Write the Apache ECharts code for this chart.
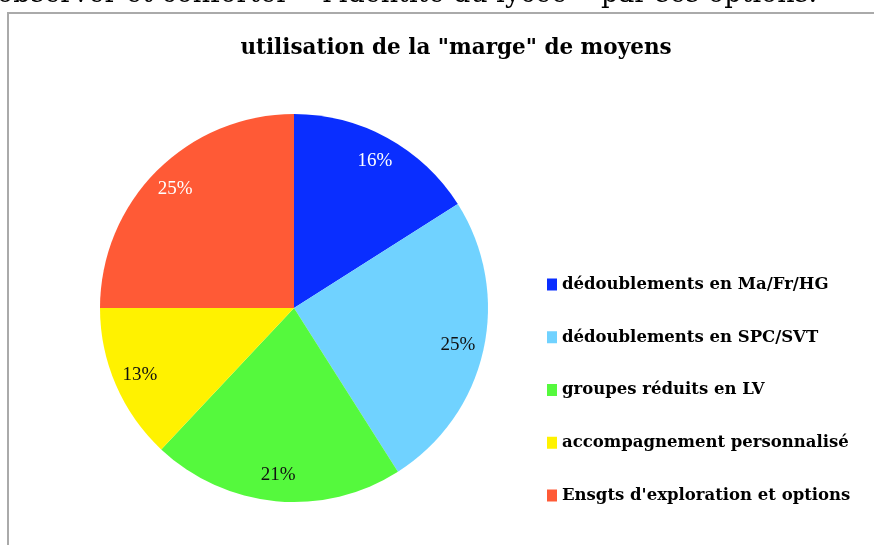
<!DOCTYPE html>
<html>
<head>
<meta charset="utf-8">
<script src="https://cdn.jsdelivr.net/npm/echarts@6/dist/echarts.min.js"></script>
<style>
  html, body { margin: 0; padding: 0; background: #fff; }
  #main { width: 874px; height: 545px; }
</style>
</head>
<body>
<div id="main"></div>
<script>
// donnees
let categories = [
    'dédoublements en Ma/Fr/HG',
    'dédoublements en SPC/SVT',
    'groupes réduits en LV',
    'accompagnement personnalisé',
    "Ensgts d'exploration et options"
];
let parts = [16, 25, 21, 13, 25];

let colors = ['#0A2EFF', '#70D2FF', '#55F93D', '#FFF200', '#FF5A36'];
let labelColors = ['#fff', '#111', '#111', '#111', '#fff'];

let dom = document.getElementById('main');
let myChart = echarts.init(dom);

let pieData = categories.map(function (c, i) {
    return { name: c, value: parts[i], itemStyle: { color: colors[i] } };
});
let labelData = categories.map(function (c, i) {
    return {
        name: c, value: parts[i],
        label: { color: labelColors[i] }
    };
});

var option = null;
option = {
    animation: false,
    title: {
        text: 'utilisation de la "marge" de moyens',
        left: 451,
        textAlign: 'center',
        top: 32,
        textStyle: { fontFamily: 'DejaVu Serif', fontWeight: 'bold', fontSize: 21.5, color: '#000' }
    },
    legend: {
        orient: 'vertical',
        left: 542,
        top: 270,
        itemWidth: 10,
        itemHeight: 12,
        itemGap: 33.75,
        icon: 'rect',
        data: categories,
        selectedMode: false,
        textStyle: { fontFamily: 'DejaVu Serif', fontWeight: 'bold', fontSize: 16.5, color: '#000', lineHeight: 19 }
    },
    graphic: [
        {
            type: 'rect', z: -1, silent: true,
            shape: { x: 8, y: 13, width: 900, height: 560 },
            style: { fill: 'none', stroke: '#aaa', lineWidth: 2 }
        },
        {
            type: 'text', silent: true, x: -3, y: 8,
            style: {
                text: "observer et conforter « l'identité du lycée » par ses options.",
                font: '27px "DejaVu Serif"', fill: '#000', textVerticalAlign: 'bottom'
            }
        }
    ],
    series: [
        {
            type: 'pie',
            center: [294, 308],
            radius: [0, 194],
            startAngle: 90,
            clockwise: true,
            silent: true,
            label: { show: false },
            labelLine: { show: false },
            data: pieData
        },
        {
            // serie transparente pour placer les % vers le bord
            type: 'pie',
            center: [294, 308],
            radius: [136, 194],
            startAngle: 90,
            clockwise: true,
            silent: true,
            itemStyle: { color: 'rgba(0,0,0,0)' },
            label: {
                show: true,
                position: 'inside',
                fontFamily: 'Liberation Serif',
                fontSize: 19,
                formatter: function (p) { return p.value + '%'; }
            },
            labelLine: { show: false },
            data: labelData
        }
    ]
};

myChart.setOption(option, true);
</script>
</body>
</html>
